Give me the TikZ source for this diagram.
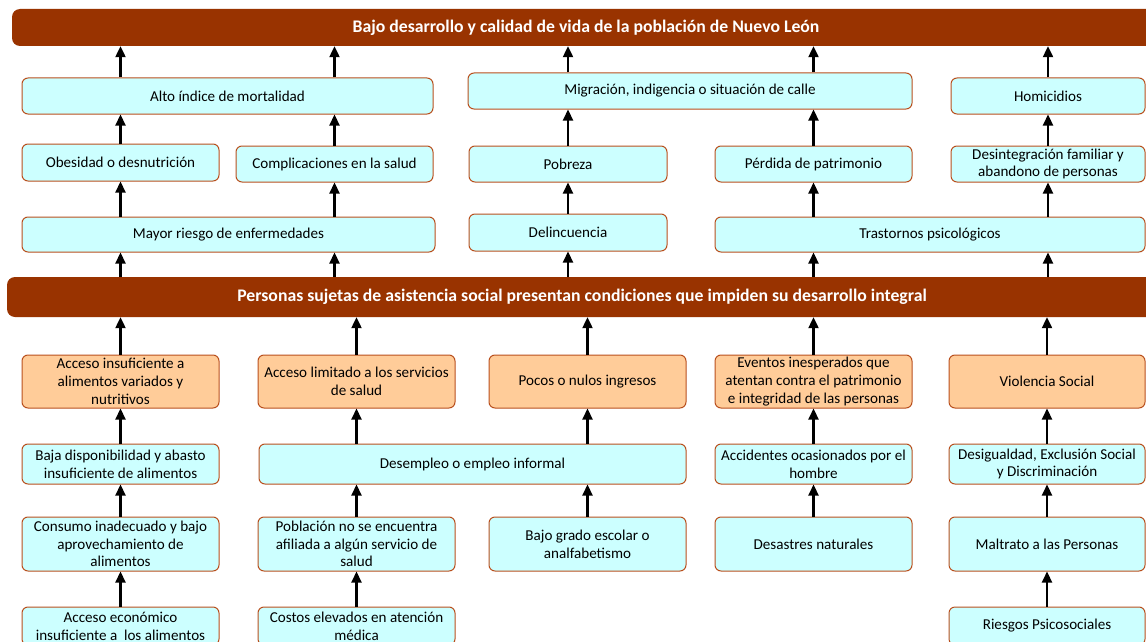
\documentclass[tikz,border=0pt]{standalone}
\usepackage{fontspec}
\setmainfont{Carlito}
\usetikzlibrary{arrows.meta}
\definecolor{barc}{RGB}{153,51,0}
\definecolor{cyanb}{RGB}{204,255,255}
\definecolor{orab}{RGB}{255,204,153}
\definecolor{edgec}{RGB}{185,80,30}
\newcommand\mkbox[7]{\node[#1, minimum width={(#5-#4)*1pt}, minimum height={(#7-#6)*1pt}] (#2) at ({(#4+#5)/2},{(#6+#7)/2}) {#3};}
\begin{document}
\begin{tikzpicture}[x=1pt,y=-1pt,
  box/.style={draw=edgec, line width=1pt, rounded corners=6pt, fill=cyanb, align=center, inner sep=1pt, font=\fontsize{15.1}{17.8}\selectfont},
  obox/.style={box, fill=orab},
  bar/.style={fill=barc, rounded corners=8pt, text=white, inner sep=0pt, font=\bfseries\fontsize{17.7}{21}\selectfont},
  arr/.style={line width=2.2pt, -{Triangle[width=10pt,length=11pt]}}]
\useasboundingbox (0,0) rectangle (1146,642);
\clip (0,0) rectangle (1146,642);
% bars
\mkbox{bar}{top}{Bajo desarrollo y calidad de vida de la población de Nuevo León}{12}{1160}{9}{46}
\mkbox{bar}{mid}{Personas sujetas de asistencia social presentan condiciones que impiden su desarrollo integral}{7}{1157}{277}{317}
% top section
\mkbox{box}{alto}{Alto índice de mortalidad}{22}{433}{78}{114}
\mkbox{box}{migr}{Migración, indigencia o situación de calle}{468}{912}{73}{109}
\mkbox{box}{homi}{Homicidios}{951}{1145}{78}{114}
\mkbox{box}{obes}{Obesidad o desnutrición}{22}{219}{144}{181}
\mkbox{box}{compl}{Complicaciones en la salud}{236}{433}{146}{182}
\mkbox{box}{pobr}{Pobreza}{469}{667}{146}{182}
\mkbox{box}{perd}{Pérdida de patrimonio}{715}{912}{146}{182}
\mkbox{box}{desi}{Desintegración familiar y\\abandono de personas}{951}{1145}{146}{182}
\mkbox{box}{mayor}{Mayor riesgo de enfermedades}{22}{435}{217}{252}
\mkbox{box}{delin}{Delincuencia}{469}{667}{214}{251}
\mkbox{box}{trast}{Trastornos psicológicos}{715}{1145}{217}{252}
% bottom section
\mkbox{obox}{ains}{Acceso insuficiente a\\alimentos variados y\\nutritivos}{22}{219}{355}{408}
\mkbox{obox}{alim}{Acceso limitado a los servicios\\de salud}{258}{455}{355}{408}
\mkbox{obox}{pocos}{Pocos o nulos ingresos}{489}{686}{355}{408}
\mkbox{obox}{event}{Eventos inesperados que\\atentan contra el patrimonio\\e integridad de las personas}{715}{912}{355}{408}
\mkbox{obox}{viol}{Violencia Social}{949}{1145}{355}{408}
\mkbox{box}{baja}{Baja disponibilidad y abasto\\insuficiente de alimentos}{22}{219}{444}{484}
\mkbox{box}{desem}{Desempleo o empleo informal}{259}{686}{444}{484}
\mkbox{box}{accid}{Accidentes ocasionados por el\\hombre}{715}{912}{444}{484}
\mkbox{box}{desig}{Desigualdad, Exclusión Social\\y Discriminación}{949}{1145}{444}{484}
\mkbox{box}{consu}{Consumo inadecuado y bajo\\aprovechamiento de\\alimentos}{22}{219}{517}{571}
\mkbox{box}{pobla}{Población no se encuentra\\afiliada a algún servicio de\\salud}{258}{455}{517}{571}
\mkbox{box}{bajog}{Bajo grado escolar o\\analfabetismo}{489}{686}{517}{571}
\mkbox{box}{desas}{Desastres naturales}{715}{912}{517}{571}
\mkbox{box}{maltr}{Maltrato a las Personas}{949}{1145}{517}{571}
\mkbox{box}{aecon}{Acceso económico\\insuficiente a \ los alimentos}{22}{219}{607}{645}
\mkbox{box}{costo}{Costos elevados en atención\\médica}{258}{455}{607}{645}
\mkbox{box}{riesg}{Riesgos Psicosociales}{949}{1145}{607}{645}
% arrows
\foreach \s/\d/\x in {alto/top/obes, alto/top/compl, migr/top/pobr, migr/top/perd, homi/top/desi,
  obes/alto/obes, compl/alto/compl, pobr/migr/pobr, perd/migr/perd, desi/homi/desi,
  mayor/obes/obes, mayor/compl/compl, delin/pobr/pobr, trast/perd/perd, trast/desi/desi,
  mid/mayor/obes, mid/mayor/compl, mid/delin/pobr, mid/trast/perd, mid/trast/desi,
  ains/mid/ains, alim/mid/alim, pocos/mid/pocos, event/mid/event, viol/mid/viol,
  baja/ains/ains, desem/alim/alim, desem/pocos/pocos, accid/event/event, desig/viol/viol,
  consu/baja/baja, pobla/desem/pobla, bajog/desem/bajog, desas/accid/accid, maltr/desig/desig,
  aecon/consu/consu, costo/pobla/pobla, riesg/maltr/maltr}
  {\draw[arr] (\s.north -| \x) -- (\d.south -| \x);}
\end{tikzpicture}
\end{document}
